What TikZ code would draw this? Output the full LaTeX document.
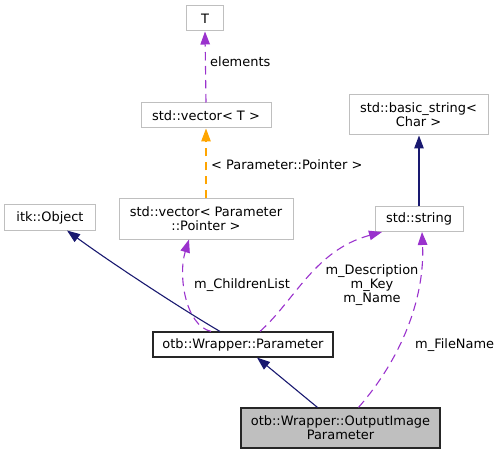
\documentclass[tikz,border=0pt]{standalone}
\usepackage{fontspec}
\setmainfont{DejaVu Sans}
\usetikzlibrary{positioning, arrows.meta}
\definecolor{kastengrau}{HTML}{BFBFBF}
\definecolor{erbblau}{HTML}{191970}
\definecolor{nutzlila}{HTML}{9A32CD}
\definecolor{vorlorange}{HTML}{FFA500}
\tikzset{klasse/.style={draw=kastengrau, line width=1bp, fill=white, inner sep=0pt, align=center, minimum height=25bp, font=\fontsize{13}{14.3}\selectfont}}
\tikzset{hauptklasse/.style={klasse, draw=black!85, line width=1.1bp}}
\tikzset{erbpfeil/.style={erbblau, line width=1.1bp, -{Triangle[length=13bp, width=9.5bp]}}}
\tikzset{nutzpfeil/.style={nutzlila, line width=1.1bp, dash pattern=on 8.5bp off 5.5bp, -{Triangle[length=13bp, width=9.5bp]}}}
\tikzset{vorlpfeil/.style={vorlorange, line width=1.1bp, dash pattern=on 8.5bp off 5.5bp, -{Triangle[length=13bp, width=9.5bp]}}}
\tikzset{beschriftung/.style={inner sep=0pt, align=center, font=\fontsize{13}{14.3}\selectfont}}

\begin{document}
\begin{tikzpicture}[x=1bp, y=-1bp]
		\useasboundingbox (0,0) rectangle (503,455);
		
		% KLASSEN
		\node[klasse, minimum width=37bp] (T) at (205,18.5) {T};
		\node[klasse, minimum width=130bp] (vecT) at (206,115.5) {std::vector< T >};
		\node[klasse, minimum width=139bp, minimum height=40bp] (basicstr) at (418.5,115) {std::basic\_string<\\Char >};
		\node[klasse, minimum width=90bp] (itkobj) at (50,217.5) {itk::Object};
		\node[klasse, minimum width=174bp, minimum height=40bp] (vecPar) at (206,219) {std::vector< Parameter\\::Pointer >};
		\node[klasse, minimum width=88bp] (stdstr) at (419,219) {std::string};
		\node[hauptklasse, minimum width=180bp] (param) at (243,344.5) {otb::Wrapper::Parameter};
		\node[hauptklasse, fill=kastengrau, minimum width=199bp, minimum height=40bp] (outimg) at (340.5,428) {otb::Wrapper::OutputImage\\Parameter};
		
		% VORLAGEN
		\draw[nutzpfeil] (vecT.north) -- (T.south);
		\node[beschriftung, anchor=west] (elemText) at (210,62) {elements};
		\draw[vorlpfeil] (vecPar.north) -- (vecT.south);
		\node[beschriftung, anchor=west] (vorlText) at (211,165) {< Parameter::Pointer >};
		
		% VERERBUNG
		\draw[erbpfeil] (stdstr.north) -- (stdstr.north |- basicstr.south);
		\draw[erbpfeil] ([xshift=-23bp]param.north) .. controls (180,308) and (110,262) .. ([xshift=17bp]itkobj.south);
		\draw[erbpfeil] ([xshift=-23bp]outimg.north) -- ([xshift=14bp]param.south);
		
		% ATTRIBUTE
		\draw[nutzpfeil] ([xshift=-32bp]param.north) .. controls (185,325) and (178,275) .. ([xshift=-17bp]vecPar.south);
		\node[beschriftung] (kinderText) at (242,285) {m\_ChildrenList};
		\draw[nutzpfeil] ([xshift=17bp]param.north) .. controls (295,300) and (315,250) .. ([xshift=-37bp]stdstr.south);
		\node[beschriftung] (nameText) at (372,285) {m\_Description\\m\_Key\\m\_Name};
		\draw[nutzpfeil] ([xshift=18bp]outimg.north) .. controls (400,360) and (425,300) .. ([xshift=3bp]stdstr.south);
		\node[beschriftung, anchor=west] (dateiText) at (415,345) {m\_FileName};
		
	\end{tikzpicture}
\end{document}
